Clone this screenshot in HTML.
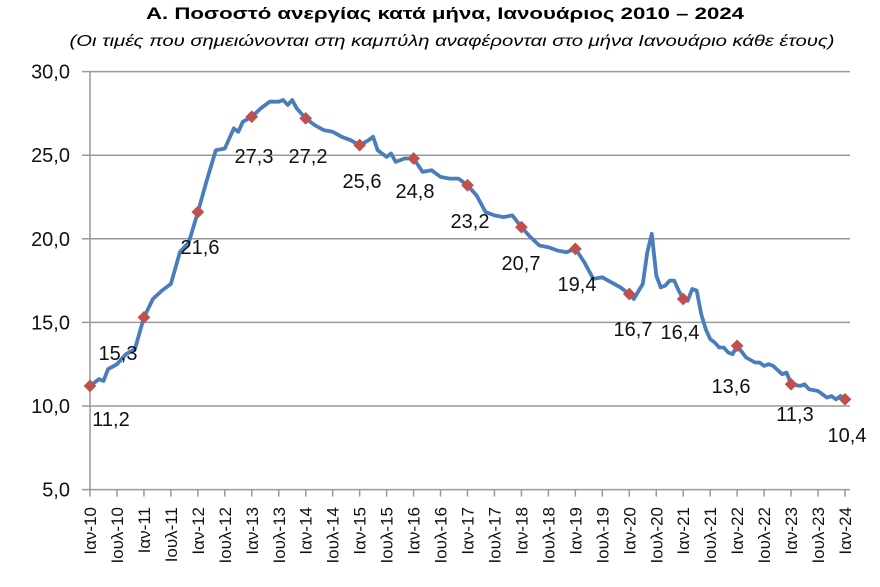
<!DOCTYPE html>
<html><head><meta charset="utf-8"><style>
body{margin:0;background:#fff;}
svg{display:block;font-family:"Liberation Sans",sans-serif;}
</style></head><body>
<svg id="s" width="880" height="587" xmlns="http://www.w3.org/2000/svg">
<text x="445" y="19" text-anchor="middle" font-size="17" font-weight="bold" fill="#000" textLength="598" lengthAdjust="spacingAndGlyphs">Α. Ποσοστό ανεργίας κατά μήνα, Ιανουάριος 2010 – 2024</text>
<text x="452" y="46" text-anchor="middle" font-size="16" font-style="italic" fill="#000" textLength="765" lengthAdjust="spacingAndGlyphs">(Οι τιμές που σημειώνονται στη καμπύλη αναφέρονται στο μήνα Ιανουάριο κάθε έτους)</text>
<g id="grid"></g>
<g id="ax"></g>
<path id="ln" fill="none" stroke="#4a7ebb" stroke-width="3.8" stroke-linejoin="round"/>
<g id="mk"></g>
<g id="lb" font-size="20" fill="#111"></g>
</svg>
<script>
var ns="http://www.w3.org/2000/svg";
function el(p,t,a,txt){var e=document.createElementNS(ns,t);for(var k in a)e.setAttribute(k,a[k]);if(txt!=null)e.textContent=txt;document.getElementById(p).appendChild(e);return e;}
var X0=90,DX=755/168;
function Y(v){return 406-(v-10)*16.72;}
function X(m){return X0+m*DX;}
[5,10,15,20,25,30].forEach(function(v){
 if(v>5) el("grid","line",{x1:X0,x2:850,y1:Y(v),y2:Y(v),stroke:"#999","stroke-width":1.5});
 el("ax","line",{x1:82,x2:X0,y1:Y(v),y2:Y(v),stroke:"#999","stroke-width":1.5});
 el("ax","text",{x:70,y:Y(v)+7,"text-anchor":"end","font-size":20,fill:"#111"},v+",0");
});
el("ax","line",{x1:X0,x2:X0,y1:Y(30),y2:Y(5),stroke:"#999","stroke-width":1.5});
el("ax","line",{x1:X0,x2:850,y1:Y(5),y2:Y(5),stroke:"#999","stroke-width":1.5});
for(var i=0;i<=28;i++){var x=X(i*6);
 el("ax","line",{x1:x,x2:x,y1:Y(5),y2:Y(5)+7,stroke:"#999","stroke-width":1.5});
 var yr=10+Math.floor(i/2);var t=(i%2?"Ιουλ-":"Ιαν-")+yr;
 el("ax","text",{x:0,y:0,transform:"translate("+(x+6)+",507) rotate(-90)","text-anchor":"end","font-size":17,fill:"#111"},t);
}
var K=[[0,11.2],[2,11.6],[3,11.5],[4,12.2],[6,12.5],[8,13.1],[10,13.4],[12,15.3],[14,16.4],[16,16.9],[18,17.3],[20,19.2],[22,19.8],[24,21.6],[26,23.5],[28,25.3],[30,25.4],[32,26.6],[33,26.4],[34,27.0],[36,27.3],[38,27.8],[40,28.2],[42,28.2],[43,28.3],[44,28.0],[45,28.3],[46,27.8],[48,27.2],[50,26.8],[52,26.5],[54,26.4],[56,26.1],[58,25.9],[60,25.6],[62,25.9],[63,26.1],[64,25.3],[66,24.9],[67,25.1],[68,24.6],[70,24.8],[72,24.8],[74,24.0],[76,24.1],[78,23.7],[80,23.6],[82,23.6],[84,23.2],[86,22.6],[88,21.6],[90,21.4],[92,21.3],[94,21.4],[96,20.7],[98,20.1],[100,19.6],[102,19.5],[104,19.3],[106,19.2],[107,19.3],[108,19.4],[110,18.6],[112,17.6],[114,17.7],[116,17.4],[118,17.1],[120,16.7],[121,16.4],[123,17.3],[124,19.2],[125,20.3],[126,17.8],[127,17.1],[128,17.2],[129,17.5],[130,17.5],[131,16.9],[132,16.4],[133,16.3],[134,17.0],[135,16.9],[136,15.5],[137,14.6],[138,14.0],[139,13.8],[140,13.5],[141,13.5],[142,13.2],[143,13.1],[144,13.6],[146,12.9],[148,12.6],[149,12.6],[150,12.4],[151,12.5],[152,12.4],[154,11.9],[155,12.0],[156,11.3],[158,11.2],[159,11.3],[160,11.0],[162,10.9],[164,10.5],[165,10.6],[166,10.4],[167,10.6],[168,10.4]];
var d="";K.forEach(function(p,i){d+=(i?"L":"M")+X(p[0]).toFixed(1)+","+Y(p[1]).toFixed(1);});
document.getElementById("ln").setAttribute("d",d);
var J=[11.2,15.3,21.6,27.3,27.2,25.6,24.8,23.2,20.7,19.4,16.7,16.4,13.6,11.3,10.4];
J.forEach(function(v,i){var x=X(i*12),y=Y(v);
 el("mk","rect",{x:x-4.5,y:y-4.5,width:9,height:9,fill:"#c0504d",transform:"rotate(45 "+x+" "+y+")"});});
var L=[[111,426],[118,360],[200,254],[254,163],[308,163],[362,188],[415,198],[470,228],[521,270],[577,291],[633,336],[680,339],[731,393],[795,421],[847,442]];
L.forEach(function(p,i){el("lb","text",{x:p[0],y:p[1],"text-anchor":"middle"},J[i].toFixed(1).replace(".",","));});
</script>
</body></html>
